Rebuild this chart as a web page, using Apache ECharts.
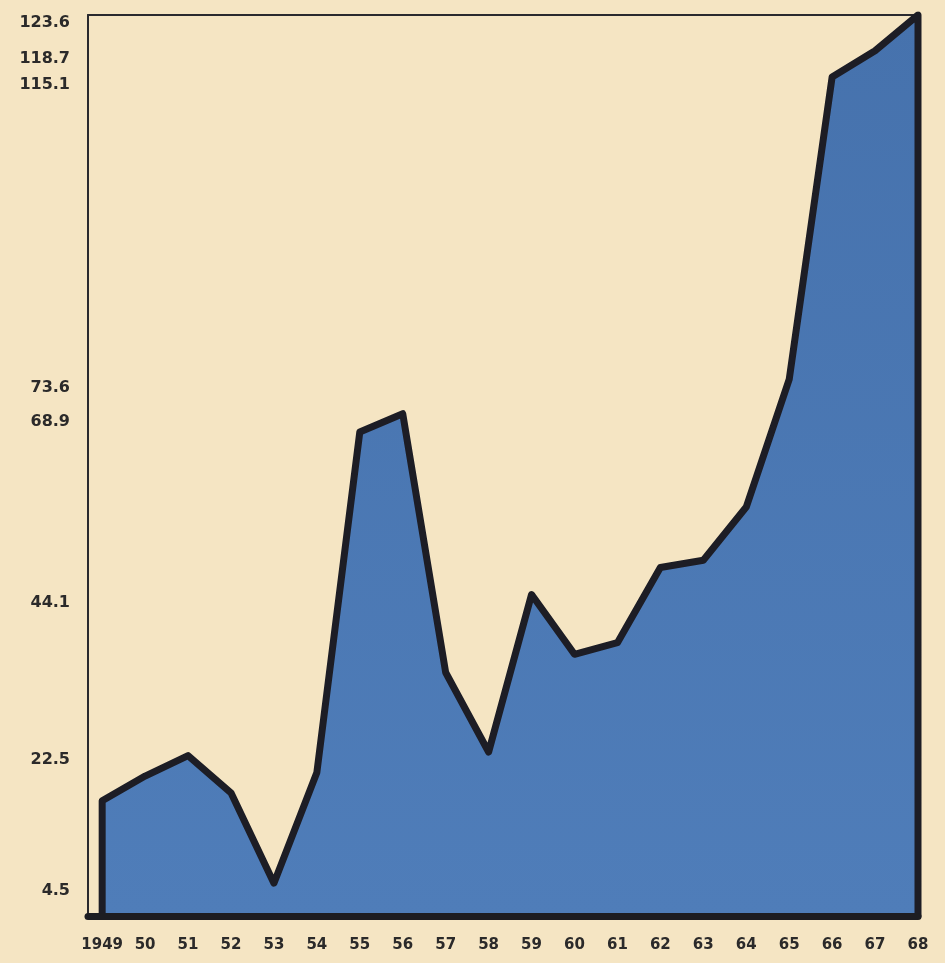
<!DOCTYPE html>
<html>
<head>
<meta charset="utf-8">
<script src="https://cdn.jsdelivr.net/npm/echarts@6/dist/echarts.min.js"></script>
<style>
  html, body { margin: 0; padding: 0; background: #f5e5c3; }
  #chart { width: 945px; height: 963px; }
</style>
</head>
<body>
<div id="chart"></div>
<script>
// ---- data ----
const years = [1949, 1950, 1951, 1952, 1953, 1954, 1955, 1956, 1957, 1958,
               1959, 1960, 1961, 1962, 1963, 1964, 1965, 1966, 1967, 1968];
const values = [15.8, 19.2, 22.0, 16.9, 4.5, 19.7, 66.4, 68.9, 33.4, 22.5,
                44.1, 35.9, 37.5, 47.8, 48.8, 56.1, 73.6, 115.1, 118.7, 123.6];
const xTickLabels = ['1949', '50', '51', '52', '53', '54', '55', '56', '57', '58',
                     '59', '60', '61', '62', '63', '64', '65', '66', '67', '68'];
const yTickValues = [4.5, 22.5, 44.1, 68.9, 73.6, 115.1, 118.7, 123.6];

// ---- build series data (closed at the baseline on both ends) ----
const seriesData = [[years[0], 0]]
  .concat(years.map((y, i) => [y, values[i]]))
  .concat([[years[years.length - 1], 0]]);

const labelStyle = {
  fontFamily: 'DejaVu Sans',
  fontWeight: 'bold',
  fontSize: 15,
  color: '#2b2a2a'
};

const chart = echarts.init(document.getElementById('chart'), null, { renderer: 'canvas' });
chart.setOption({
  backgroundColor: '#f5e5c3',
  animation: false,
  grid: { left: 88, right: 27, top: 15, bottom: 47 },
  xAxis: [
    {
      type: 'value',
      min: 1948.67,
      max: 1968,
      z: 5,
      axisLine: { show: true, onZero: false, lineStyle: { color: '#1d1d22', width: 7 } },
      axisTick: { show: false },
      splitLine: { show: false },
      axisLabel: Object.assign({}, labelStyle, {
        customValues: years,
        margin: 22,
        formatter: v => xTickLabels[years.indexOf(Math.round(v))] || ''
      })
    },
    {
      type: 'value',
      position: 'top',
      min: 1948.67,
      max: 1968,
      axisLine: { show: true, onZero: false, lineStyle: { color: '#2a2a2e', width: 2 } },
      axisTick: { show: false },
      axisLabel: { show: false },
      splitLine: { show: false }
    }
  ],
  yAxis: {
    type: 'value',
    min: 0,
    max: 123.6,
    axisLine: { show: true, onZero: false, lineStyle: { color: '#2a2a2e', width: 2 } },
    axisTick: { show: false },
    splitLine: { show: false },
    axisLabel: Object.assign({}, labelStyle, {
      fontSize: 16,
      customValues: yTickValues,
      margin: 18,
      verticalAlign: 'top',
      formatter: v => String(v)
    })
  },
  series: [{
    type: 'line',
    data: seriesData,
    symbol: 'none',
    lineStyle: { color: '#1d1d25', width: 7, join: 'round', cap: 'round' },
    areaStyle: {
      opacity: 1,
      color: {
        type: 'linear', x: 0, y: 0, x2: 0, y2: 1,
        colorStops: [
          { offset: 0, color: '#4672ad' },
          { offset: 1, color: '#4f7db9' }
        ]
      }
    },
    z: 3
  }]
});
</script>
</body>
</html>
